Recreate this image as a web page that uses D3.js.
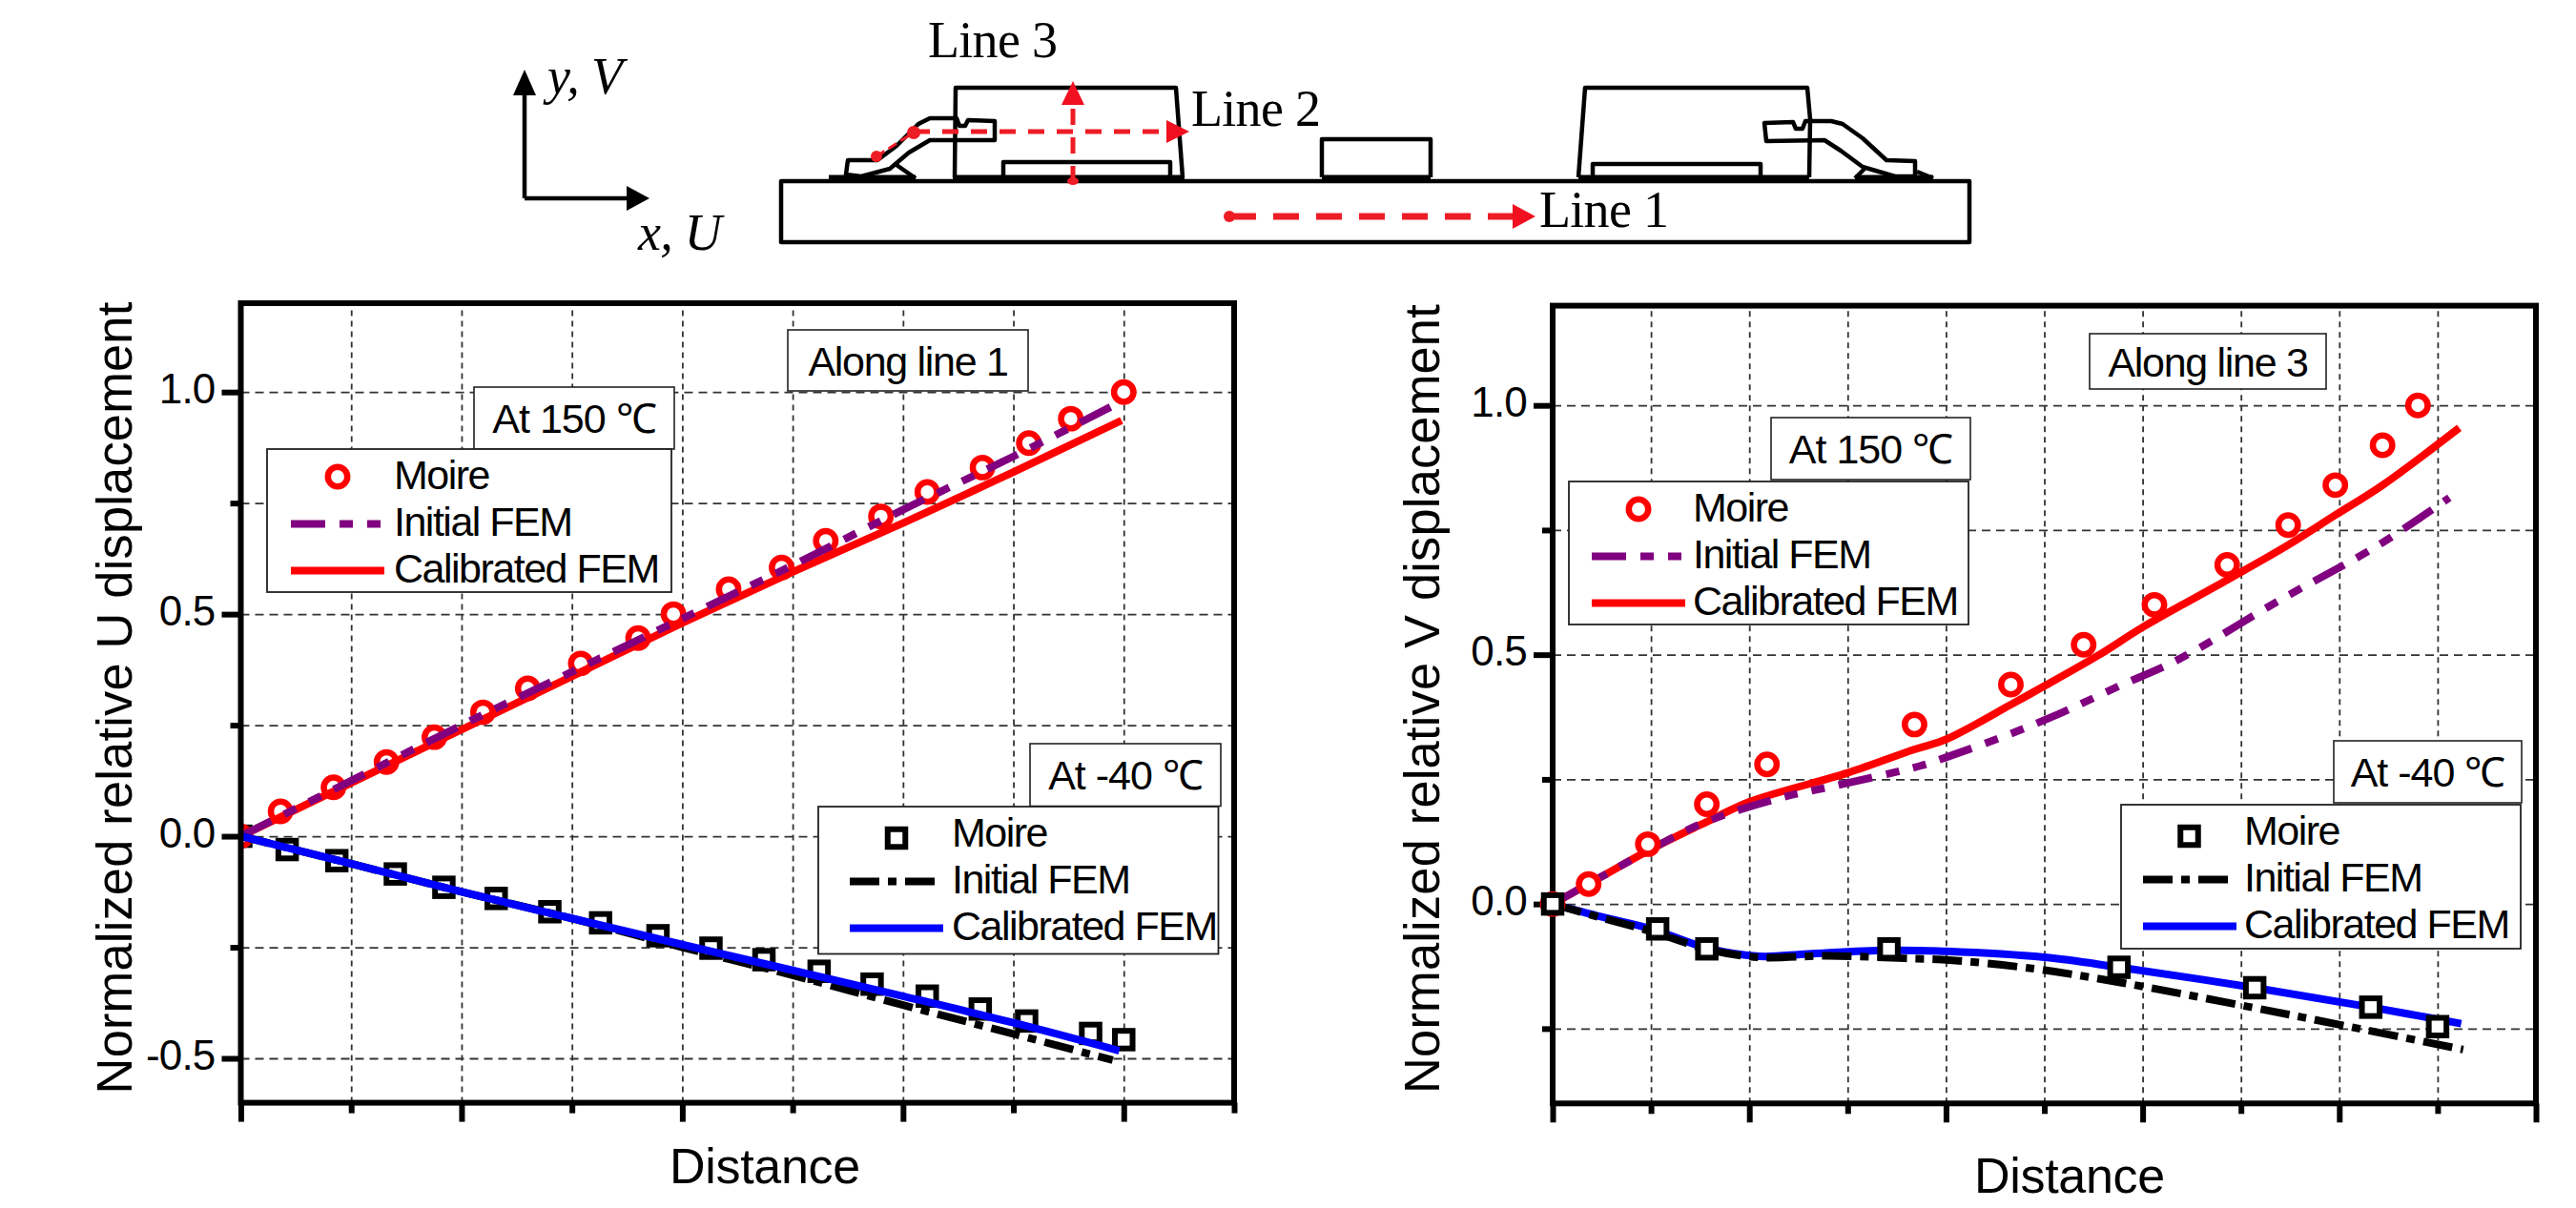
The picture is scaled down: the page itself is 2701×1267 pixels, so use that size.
<!DOCTYPE html>
<html>
<head>
<meta charset="utf-8">
<style>
html,body{margin:0;padding:0;background:#fff;}
svg{display:block;}
text{font-family:"Liberation Sans",Arial,sans-serif;fill:#000;}
.sch{font-family:"Liberation Serif","Times New Roman",serif;font-size:54px;letter-spacing:-0.7px;}
.grid path{display:none;}
.grid line{stroke:#333;stroke-width:1.8;}
.ax path{display:none;}
.ax line{stroke:#000;stroke-width:6;}
</style>
</head>
<body>
<script src="https://cdnjs.cloudflare.com/ajax/libs/d3/7.8.5/d3.min.js"></script>
<script>
// Left panel: U displacement along line 1
var uMoireHotX=[0,0.18,0.42,0.66,0.877,1.097,1.30,1.54,1.80,1.96,2.21,2.45,2.65,2.90,3.11,3.36,3.57,3.76,4.0];
var uMoireHot=[0,0.056,0.11,0.167,0.223,0.279,0.333,0.389,0.446,0.50,0.556,0.605,0.665,0.72,0.775,0.83,0.885,0.94,1.0];
var uInitHotX=[0,0.5,1,1.5,2,2.5,3,3.5,3.97];
var uInitHot=[0,0.125,0.25,0.37,0.49,0.61,0.735,0.855,0.974];
var uCalHotX=[0,0.5,1,1.5,2,2.5,3,3.5,3.99];
var uCalHot=[0,0.12,0.24,0.36,0.48,0.595,0.705,0.82,0.936];
var uMoireColdX=[0,0.21,0.435,0.70,0.92,1.157,1.40,1.63,1.89,2.13,2.37,2.62,2.86,3.11,3.35,3.56,3.85,4.0];
var uMoireCold=[0,-0.03,-0.055,-0.085,-0.115,-0.14,-0.17,-0.195,-0.224,-0.252,-0.278,-0.304,-0.333,-0.36,-0.389,-0.416,-0.444,-0.458];
var uInitColdX=[0,0.5,1,1.5,2,2.5,3,3.5,3.95];
var uInitCold=[0,-0.062,-0.125,-0.185,-0.25,-0.313,-0.38,-0.445,-0.504];
var uCalColdX=[0,0.5,1,1.5,2,2.5,3,3.5,3.98];
var uCalCold=[0,-0.062,-0.125,-0.185,-0.244,-0.302,-0.36,-0.42,-0.483];
var uMajorY=[-0.5,0,0.5,1], uMinorY=[-0.25,0.25,0.75], uTickLabels=["-0.5","0.0","0.5","1.0"];
var uMajorX=[0,1,2,3,4], uMinorX=[0.5,1.5,2.5,3.5,4.5];

// Right panel: V displacement along line 3
var vMoireHotX=[0,0.183,0.484,0.784,1.09,1.84,2.33,2.70,3.06,3.43,3.74,3.98,4.22,4.40];
var vMoireHot=[0,0.04,0.12,0.20,0.28,0.36,0.44,0.52,0.60,0.68,0.76,0.84,0.92,1.0];
var vInitHotX=[0,0.25,0.5,0.78,1.15,1.47,1.87,2.0,2.3,2.59,2.88,3.18,3.7,4.2,4.56];
var vInitHot=[0,0.055,0.11,0.165,0.212,0.24,0.277,0.294,0.337,0.384,0.437,0.49,0.61,0.72,0.815];
var vCalHotX=[0,0.25,0.5,0.8,1,1.5,1.84,2,2.33,2.5,2.78,3,3.43,3.74,3.98,4.22,4.61];
var vCalHot=[0,0.055,0.11,0.168,0.205,0.263,0.31,0.33,0.40,0.437,0.50,0.555,0.65,0.72,0.78,0.84,0.955];
var vMoireColdX=[0,0.534,0.784,1.71,2.88,3.57,4.16,4.50];
var vMoireCold=[0,-0.05,-0.09,-0.09,-0.127,-0.168,-0.207,-0.246];
var vInitColdX=[0,0.25,0.5,0.8,1.05,1.4,1.79,2,2.45,2.88,3.5,4.05,4.63];
var vInitCold=[0,-0.028,-0.055,-0.092,-0.107,-0.104,-0.109,-0.112,-0.13,-0.157,-0.203,-0.246,-0.292];
var vCalColdX=[0,0.25,0.5,0.8,1.05,1.3,1.7,2,2.5,2.88,3.57,4.16,4.62];
var vCalCold=[0,-0.026,-0.05,-0.09,-0.105,-0.1,-0.093,-0.095,-0.107,-0.127,-0.168,-0.207,-0.24];
var vMajorY=[0,0.5,1], vMinorY=[-0.25,0.25,0.75], vTickLabels=["0.0","0.5","1.0"];
var vMajorX=[0,1,2,3,4,5], vMinorX=[0.5,1.5,2.5,3.5,4.5];

var legendNames=["Moire","Initial FEM","Calibrated FEM"];
var purpleDash="36 15 14 15 14 15", blackDash="31 9 9 9";

var svg=d3.select("body").append("svg").attr("width",2701).attr("height",1267);

var zip=function(xs,ys){ return xs.map(function(d,i){ return [d,ys[i]]; }); };

var setup=function(o,idx){
    var x=d3.scaleLinear().domain(o.xDom).range(o.xRange);
    var y=d3.scaleLinear().domain(o.yDom).range(o.yRange);
    var g=svg.append("g");
    var allX=o.majorX.concat(o.minorX).sort(d3.ascending);
    var allY=o.majorY.concat(o.minorY).sort(d3.ascending);
    var h=o.yRange[0]-o.yRange[1], w=o.xRange[1]-o.xRange[0];

    // grid
    var gx=g.append("g").attr("class","grid").attr("transform","translate(0,"+o.yRange[0]+")")
        .call(d3.axisBottom(x).tickValues(allX.filter(function(d){return d>0 && d<o.xDom[1];})).tickSize(-h).tickFormat(""));
    gx.selectAll("line").style("stroke-dasharray","6 5");
    var gy=g.append("g").attr("class","grid").attr("transform","translate("+o.xRange[0]+",0)")
        .call(d3.axisLeft(y).tickValues(allY).tickSize(-w).tickFormat(""));
    gy.selectAll("line").style("stroke-dasharray","9 6");

    var frameLayer=g.append("g");
    var line=d3.line().x(function(d){return x(d[0]);}).y(function(d){return y(d[1]);}).curve(d3.curveCatmullRom.alpha(0.5));

    var addLine=function(xs,ys,color,dash){
        g.append("path").datum(zip(xs,ys)).attr("d",line)
            .attr("fill","none").attr("stroke",color).attr("stroke-width",8)
            .attr("stroke-dasharray",dash);
    };
    var addCircles=function(layer){
        layer.selectAll("circle").data(zip(o.moireHotX,o.moireHot)).enter().append("circle")
            .attr("cx",function(d){return x(d[0]);}).attr("cy",function(d){return y(d[1]);})
            .attr("r",10.2).attr("fill","#fff").attr("stroke","#ff0000").attr("stroke-width",6.5);
    };
    var addSquares=function(layer){
        layer.selectAll("rect").data(zip(o.moireColdX,o.moireCold)).enter().append("rect")
            .attr("x",function(d){return x(d[0])-9.25;}).attr("y",function(d){return y(d[1])-9.25;})
            .attr("width",18.5).attr("height",18.5).attr("fill","#fff").attr("stroke","#000").attr("stroke-width",6);
    };

    if(o.markersOnTop){
        // right panel: curves first, markers sit over the frame
        addLine(o.calHotX,o.calHot,"#ff0000",null);
        addLine(o.initHotX,o.initHot,"#800080",purpleDash);
        addLine(o.calColdX,o.calCold,"#0000ff",null);
        addLine(o.initColdX,o.initCold,"#000",blackDash);
        addCircles(g.append("g"));
        addSquares(g.append("g"));
    } else {
        // left panel: markers under the curves, cut at the axis
        svg.append("clipPath").attr("id","plot"+idx).append("rect")
            .attr("x",o.xRange[0]).attr("y",o.yRange[1]).attr("width",w).attr("height",h);
        var under=g.append("g").attr("clip-path","url(#plot"+idx+")");
        addSquares(under.append("g"));
        addCircles(under.append("g"));
        addLine(o.calHotX,o.calHot,"#ff0000",null);
        addLine(o.initHotX,o.initHot,"#800080",purpleDash);
        addLine(o.initColdX,o.initCold,"#000",blackDash);
        addLine(o.calColdX,o.calCold,"#0000ff",null);
    }

    // frame and ticks
    var top=o.markersOnTop ? frameLayer : g.append("g");
    top.append("rect").attr("x",o.xRange[0]).attr("y",o.yRange[1]).attr("width",w).attr("height",h)
        .attr("fill","none").attr("stroke","#000").attr("stroke-width",6);
    var bottom=d3.axisBottom(x).tickFormat("");
    top.append("g").attr("class","ax").attr("transform","translate(0,"+o.yRange[0]+")")
        .call(bottom.tickValues(o.majorX).tickSize(20));
    top.append("g").attr("class","ax").attr("transform","translate(0,"+o.yRange[0]+")")
        .call(bottom.tickValues(o.minorX).tickSize(11));
    top.append("g").attr("class","ax").attr("transform","translate("+o.xRange[0]+",0)")
        .call(d3.axisLeft(y).tickValues(o.minorY).tickSize(11).tickFormat(""));
    var yMajor=top.append("g").attr("class","ax").attr("transform","translate("+o.xRange[0]+",0)")
        .call(d3.axisLeft(y).tickValues(o.majorY).tickSize(20).tickPadding(7)
            .tickFormat(function(d,i){return o.tickLabels[i];}));
    yMajor.attr("font-size",null).attr("font-family",null);
    yMajor.selectAll("text").attr("font-size",44).attr("letter-spacing",-0.8)
        .attr("dy",null).attr("y",11);

    // axis titles
    g.append("text").attr("x",o.xLabelX).attr("y",o.xLabelY).attr("font-size",52).attr("letter-spacing",-0.3).text("Distance");
    g.append("text").attr("transform","translate("+o.yLabelX+","+o.yLabelY+") rotate(-90)")
        .attr("text-anchor","middle").attr("font-size",52.4).attr("letter-spacing",0.2).text(o.yLabel);

    textBox(o.along.x,o.along.y,o.along.w,o.along.h,o.along.t,-1.3);
    textBox(o.hot.x,o.hot.y,o.hot.w,o.hot.h,"At 150 ℃",-1);
    textBox(o.cold.x,o.cold.y,o.cold.w,o.cold.h,"At -40 ℃",-1);
    legendBox(o.legHot,"circle","#ff0000","#800080",purpleDash,"#ff0000");
    legendBox(o.legCold,"square","#000","#000",blackDash,"#0000ff");
};

var textBox=function(bx,by,bw,bh,t,sp){
    svg.append("rect").attr("x",bx).attr("y",by).attr("width",bw).attr("height",bh)
        .attr("fill","#fff").attr("stroke","#222").attr("stroke-width",1.6);
    svg.append("text").attr("x",bx+bw/2).attr("y",by+bh/2+15.5).attr("text-anchor","middle")
        .attr("font-size",43).attr("letter-spacing",sp).text(t);
};

var legendBox=function(l,shape,markColor,initColor,initDash,calColor){
    var g=svg.append("g");
    g.append("rect").attr("x",l.x).attr("y",l.y).attr("width",l.w).attr("height",l.h)
        .attr("fill","#fff").attr("stroke","#222").attr("stroke-width",1.8);
    if(shape=="circle"){
        g.append("circle").attr("cx",l.symX).attr("cy",l.y+29).attr("r",10.2)
            .attr("fill","#fff").attr("stroke",markColor).attr("stroke-width",6.5);
    } else {
        g.append("rect").attr("x",l.symX-9.25).attr("y",l.y+23.75).attr("width",18.5).attr("height",18.5)
            .attr("fill","#fff").attr("stroke",markColor).attr("stroke-width",6);
    }
    g.append("line").attr("x1",l.lineX).attr("x2",l.lineX+l.initLen).attr("y1",l.y+78.5).attr("y2",l.y+78.5)
        .attr("stroke",initColor).attr("stroke-width",8).attr("stroke-dasharray",initDash);
    g.append("line").attr("x1",l.lineX).attr("x2",l.lineX+98).attr("y1",l.y+127.5).attr("y2",l.y+127.5)
        .attr("stroke",calColor).attr("stroke-width",8);
    legendNames.forEach(function(n,i){
        g.append("text").attr("x",l.textX).attr("y",l.y+42+i*49).attr("font-size",43)
            .attr("letter-spacing",-1.5).text(n);
    });
};

setup({
    xDom:[0,4.5],yDom:[-0.6,1.2],xRange:[252.5,1294],yRange:[1156.6,318],
    majorX:uMajorX,minorX:uMinorX,majorY:uMajorY,minorY:uMinorY,tickLabels:uTickLabels,
    moireHotX:uMoireHotX,moireHot:uMoireHot,initHotX:uInitHotX,initHot:uInitHot,calHotX:uCalHotX,calHot:uCalHot,
    moireColdX:uMoireColdX,moireCold:uMoireCold,initColdX:uInitColdX,initCold:uInitCold,calColdX:uCalColdX,calCold:uCalCold,
    markersOnTop:false,
    xLabelX:702,xLabelY:1241,yLabelX:138,yLabelY:732,yLabel:"Normalized relative U displacement",
    along:{x:826,y:346,w:252,h:64,t:"Along line 1"},
    hot:{x:497,y:406,w:210,h:65},cold:{x:1080,y:780,w:200,h:65.5},
    legHot:{x:280,y:471,w:424,h:150,symX:354,lineX:305,initLen:94,textX:413},
    legCold:{x:858,y:846,w:419.5,h:154.5,symX:940,lineX:891,initLen:90,textX:998}
},0);
setup({
    xDom:[0,5],yDom:[-0.4,1.2],xRange:[1628,2659],yRange:[1157.3,320.6],
    majorX:vMajorX,minorX:vMinorX,majorY:vMajorY,minorY:vMinorY,tickLabels:vTickLabels,
    moireHotX:vMoireHotX,moireHot:vMoireHot,initHotX:vInitHotX,initHot:vInitHot,calHotX:vCalHotX,calHot:vCalHot,
    moireColdX:vMoireColdX,moireCold:vMoireCold,initColdX:vInitColdX,initCold:vInitCold,calColdX:vCalColdX,calCold:vCalCold,
    markersOnTop:true,
    xLabelX:2070,xLabelY:1251,yLabelX:1509,yLabelY:733,yLabel:"Normalized relative V displacement",
    along:{x:2191,y:350,w:248,h:58,t:"Along line 3"},
    hot:{x:1857,y:438,w:209,h:65},cold:{x:2447,y:777,w:197,h:65},
    legHot:{x:1645,y:505,w:419,h:150,symX:1718,lineX:1669,initLen:94,textX:1775},
    legCold:{x:2224,y:844,w:419,h:151,symX:2295.5,lineX:2247,initLen:89,textX:2353}
},1);

// package schematic above the panels
var sch=svg.append("g");
var outline=function(pts,closed,sw){
    sch.append("path").attr("d",d3.line()(pts)+(closed?"Z":""))
        .attr("fill","none").attr("stroke","#000").attr("stroke-width",sw||4.5).attr("stroke-linejoin","round");
};
var arrowHead=function(tip,base,half,color){
    var dx=tip[0]-base[0], dy=tip[1]-base[1], l=Math.sqrt(dx*dx+dy*dy), nx=-dy/l*half, ny=dx/l*half;
    sch.append("path").attr("d",d3.line()([tip,[base[0]+nx,base[1]+ny],[base[0]-nx,base[1]-ny]])+"Z").attr("fill",color);
};
outline([[819,190],[2065,190],[2065,254],[819,254]],true,4.5);
outline([[1001,186],[1002,92],[1233,92],[1240,186]]);
outline([[1052,186],[1052,170],[1227,170],[1227,186]]);
outline([[1386,186],[1386,146],[1500,146],[1500,186]]);
outline([[1655,186],[1662,92],[1895,92],[1898,125],[1897,186]]);
outline([[1670,186],[1670,172],[1846,172],[1846,186]]);
outline([[1043,127],[1015,126],[1012,132],[1006,132],[1003,124],[975,124],[963,130],[940,153],[920,168],[889,168],[887,183],[903,185],[933,177],[953,160],[975,147],[1043,147]],true);
outline([[940,173],[960,187]]);
outline([[1850,129],[1880,128],[1883,135],[1890,135],[1893,127],[1920,127],[1932,130],[1953,145],[1978,168],[2008,169],[2008,185],[1987,185],[1953,175],[1930,158],[1913,147],[1852,148]],true);
outline([[1945,187],[1955,177]]);
outline([[2010,180],[2027,187]]);
[[869,960],[999,1242],[1386,1500],[1655,1897],[1945,2027]].forEach(function(s){
    outline([[s[0],187],[s[1],187]],false,7);
});

// coordinate arrows
outline([[550,208],[550,98]],false,4.5);
arrowHead([550,73],[550,100],12,"#000");
outline([[550,208],[660,208]],false,4.5);
arrowHead([681,208],[657,208],13,"#000");

// red measuring lines
var red="#ee1c25";
var dashed=function(a,b,dash,sw){
    sch.append("line").attr("x1",a[0]).attr("y1",a[1]).attr("x2",b[0]).attr("y2",b[1])
        .attr("stroke",red).attr("stroke-width",sw).attr("stroke-dasharray",dash);
};
dashed([1290,227],[1590,227],"27 18",7);
sch.append("circle").attr("cx",1289).attr("cy",227).attr("r",6).attr("fill",red);
arrowHead([1610,227],[1586,227],13,"#f01020");
dashed([958,138],[1225,138],"17 13",5);
sch.append("circle").attr("cx",958).attr("cy",139).attr("r",7).attr("fill",red);
sch.append("circle").attr("cx",919).attr("cy",164).attr("r",6).attr("fill",red);
dashed([919,164],[958,139],"10 5",3);
arrowHead([1247,138],[1223,138],12,"#f01020");
dashed([1125,191],[1125,108],"17 13",5);
arrowHead([1125,85],[1125,110],12,"#f01020");
sch.append("ellipse").attr("cx",1125).attr("cy",190).attr("rx",6).attr("ry",4).attr("fill",red);

var label=function(t,lx,ly,italic){
    sch.append("text").attr("class","sch").attr("x",lx).attr("y",ly)
        .attr("font-style",italic?"italic":null).text(t);
};
label("Line 3",973,60);
label("Line 2",1249,132);
label("Line 1",1614,238);
label("y, V",574,98,true);
label("x, U",669,262,true);
</script>
</body>
</html>
